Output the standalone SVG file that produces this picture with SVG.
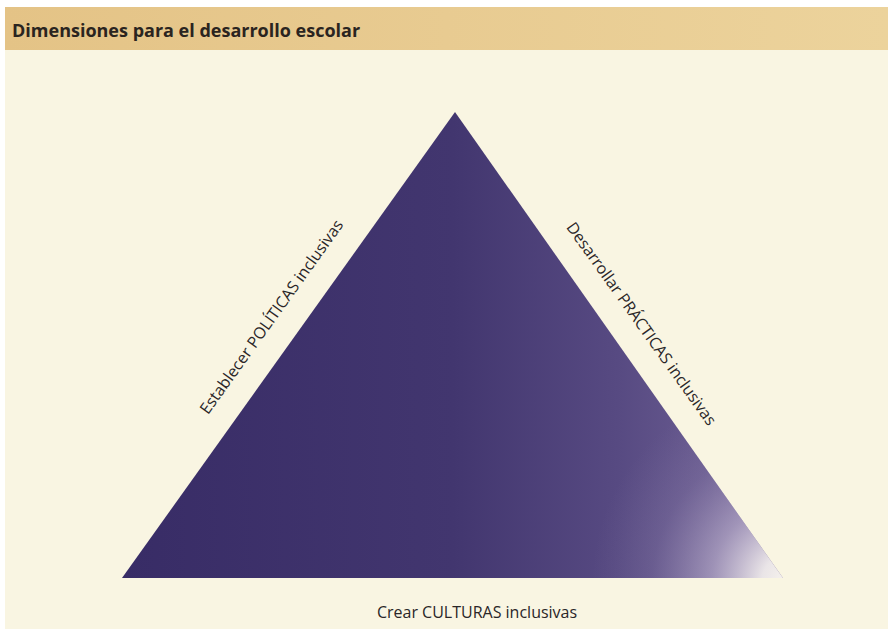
<svg xmlns="http://www.w3.org/2000/svg" width="888" height="631" viewBox="0 0 888 631">
  <style>
    .title { font-family: "Open Sans", "Liberation Sans", sans-serif; font-weight: 700; font-size: 18px; fill: #2a2420; }
    .label { font-family: "Open Sans", "Liberation Sans", sans-serif; font-size: 16px; fill: #2a2628; }
  </style>
  <defs>
    <linearGradient id="triBase" gradientUnits="userSpaceOnUse" x1="122" y1="0" x2="783" y2="0">
      <stop offset="0" stop-color="#382c66"/>
      <stop offset="0.5" stop-color="#42366f"/>
      <stop offset="0.75" stop-color="#574a82"/>
      <stop offset="1" stop-color="#76679a"/>
    </linearGradient>
    <radialGradient id="cornerFade" gradientUnits="userSpaceOnUse" cx="792" cy="582" r="200">
      <stop offset="0" stop-color="#faf6ee" stop-opacity="1"/>
      <stop offset="0.15" stop-color="#f4f0ee" stop-opacity="0.92"/>
      <stop offset="0.4" stop-color="#d4cade" stop-opacity="0.5"/>
      <stop offset="0.7" stop-color="#b0a4c4" stop-opacity="0.15"/>
      <stop offset="1" stop-color="#a094b8" stop-opacity="0"/>
    </radialGradient>
    <linearGradient id="band" x1="0" y1="0" x2="1" y2="0">
      <stop offset="0" stop-color="#e4c386"/>
      <stop offset="1" stop-color="#ecd39c"/>
    </linearGradient>
  </defs>

  <!-- page -->
  <rect x="0" y="0" width="888" height="631" fill="#ffffff"/>
  <rect x="5" y="7" width="883" height="622" fill="#f9f5e2"/>

  <!-- title band -->
  <g id="header">
    <rect x="5" y="7" width="883" height="43" fill="url(#band)"/>
    <text class="title" x="12" y="37">Dimensiones para el desarrollo escolar</text>
  </g>

  <!-- triangle -->
  <g id="triangle">
    <polygon points="455,112 122,578 783,578" fill="url(#triBase)"/>
    <polygon points="455,112 122,578 783,578" fill="url(#cornerFade)"/>
  </g>

  <!-- side labels -->
  <g id="label-politicas">
    <text class="label" text-anchor="middle" transform="translate(276,320) rotate(-54.5)">Establecer  POLÍTICAS inclusivas</text>
  </g>
  <g id="label-practicas">
    <text class="label" text-anchor="middle" transform="translate(637,327) rotate(54.5)">Desarrollar PRÁCTICAS inclusivas</text>
  </g>
  <g id="label-culturas">
    <text class="label" text-anchor="middle" x="477" y="618">Crear CULTURAS inclusivas</text>
  </g>
</svg>
